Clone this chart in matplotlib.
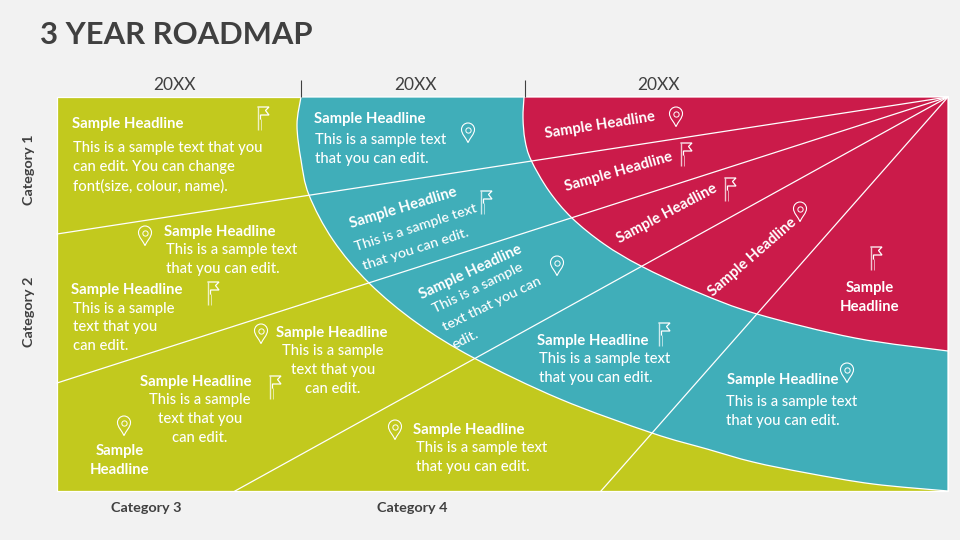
#!/usr/bin/env python3
import matplotlib
matplotlib.use("Agg")
import matplotlib.pyplot as plt
from matplotlib.patches import PathPatch, Rectangle
from matplotlib.path import Path

plt.rcParams["font.family"] = ["Lato", "DejaVu Sans"]

GREEN = "#C2C91E"
TEAL = "#40AEB9"
RED = "#CB1B4A"
DARK = "#404040"
BACK = "#F2F2F2"

APEX = (948, 97)
PLOT_LEFT, PLOT_RIGHT, PLOT_TOP, PLOT_BOTTOM = 57, 948, 97, 491

# curve anchors
red_curve = [
    (524, 97), (523, 118), (525, 140), (531, 160), (549, 191), (572, 218),
    (604, 244), (641, 266), (697, 292), (757, 314), (855, 338), (948, 351),
]
teal_curve = [
    (301, 97), (297, 125), (301, 160), (309, 195), (333, 240), (369, 283),
    (417, 323), (474, 358), (560, 399), (652, 433), (707, 449), (753, 462),
    (807, 473), (873, 484), (948, 491),
]

# far ends of the lines that fan out of the apex
ray_ends = [(57, 234), (57, 383), (235, 491), (601, 491)]

year_labels = ["20XX", "20XX", "20XX"]
year_x = [174, 415, 658]
year_ticks = [301, 525]

flags = [(258, 107), (681, 143), (725, 178), (871, 247), (659, 323), (481, 191), (208, 282), (270, 376)]
pins = [(676, 107), (468, 123), (800, 202), (557, 256), (145, 226), (261, 324), (124, 416), (395, 420), (847, 363)]

HEAD = "Sample Headline"
# x, y, text, horizontal alignment, bold, rotation
text_items = [
    (72, 124, HEAD, "left", True, 0),
    (73, 148, "This is a sample text that you", "left", False, 0),
    (73, 167, "can edit. You can change", "left", False, 0),
    (73, 186, "font(size, colour, name).", "left", False, 0),
    (314, 119, HEAD, "left", True, 0),
    (315, 140, "This is a sample text", "left", False, 0),
    (315, 159, "that you can edit.", "left", False, 0),
    (164, 232, HEAD, "left", True, 0),
    (166, 250, "This is a sample text", "left", False, 0),
    (166, 269, "that you can edit.", "left", False, 0),
    (71, 290, HEAD, "left", True, 0),
    (73, 309, "This is a sample", "left", False, 0),
    (73, 327, "text that you", "left", False, 0),
    (73, 346, "can edit.", "left", False, 0),
    (332, 333, HEAD, "center", True, 0),
    (333, 351, "This is a sample", "center", False, 0),
    (333, 370, "text that you", "center", False, 0),
    (333, 389, "can edit.", "center", False, 0),
    (196, 382, HEAD, "center", True, 0),
    (200, 400, "This is a sample", "center", False, 0),
    (200, 419, "text that you", "center", False, 0),
    (200, 438, "can edit.", "center", False, 0),
    (120, 451, "Sample", "center", True, 0),
    (120, 470, "Headline", "center", True, 0),
    (413, 430, HEAD, "left", True, 0),
    (416, 448, "This is a sample text", "left", False, 0),
    (416, 467, "that you can edit.", "left", False, 0),
    (537, 341, HEAD, "left", True, 0),
    (539, 359, "This is a sample text", "left", False, 0),
    (539, 378, "that you can edit.", "left", False, 0),
    (727, 380, HEAD, "left", True, 0),
    (726, 402, "This is a sample text", "left", False, 0),
    (726, 421, "that you can edit.", "left", False, 0),
    (870, 288, "Sample", "center", True, 0),
    (870, 307, "Headline", "center", True, 0),
    (600, 125, HEAD, "center", True, 9),
    (619, 172, HEAD, "center", True, 16),
    (667, 214, HEAD, "center", True, 28),
    (752, 257, HEAD, "center", True, 41),
    (350, 224, HEAD, "left", True, 17),
    (355, 247, "This is a sample text", "left", False, 18),
    (363, 266, "that you can edit.", "left", False, 18),
    (420, 296, HEAD, "left", True, 25),
    (433, 310, "This is a sample", "left", False, 26),
    (443, 328, "text that you can", "left", False, 26),
    (453, 345, "edit.", "left", False, 26),
]

category_labels = ["Category 1", "Category 2", "Category 3", "Category 4"]
category_pos = [(29, 170, 90), (29, 312, 90), (146, 508, 0), (412, 508, 0)]


def smooth_path(points):
    # catmull-rom through the anchors, written as cubic segments
    verts = [points[0]]
    codes = [Path.MOVETO]
    for i in range(len(points) - 1):
        p0 = points[max(i - 1, 0)]
        p1 = points[i]
        p2 = points[i + 1]
        p3 = points[min(i + 2, len(points) - 1)]
        c1 = (p1[0] + (p2[0] - p0[0]) / 6, p1[1] + (p2[1] - p0[1]) / 6)
        c2 = (p2[0] - (p3[0] - p1[0]) / 6, p2[1] - (p3[1] - p1[1]) / 6)
        verts += [c1, c2, p2]
        codes += [Path.CURVE4] * 3
    return verts, codes


def draw_region(axis, points, color):
    verts, codes = smooth_path(points)
    verts = verts + [APEX, points[0]]
    codes = codes + [Path.LINETO, Path.CLOSEPOLY]
    axis.add_patch(PathPatch(Path(verts, codes), facecolor=color, edgecolor="white", linewidth=0.9, zorder=2))


def draw_flag(axis, x, y):
    axis.plot([x, x], [y, y + 23], color="white", lw=1.0, alpha=0.75, zorder=4, solid_capstyle="butt")
    axis.plot([x + 2.5, x + 2.5], [y + 12, y + 23], color="white", lw=0.7, alpha=0.6, zorder=4, solid_capstyle="butt")
    axis.plot(
        [x, x + 11, x + 7.5, x + 11, x + 2.5, x + 2.5],
        [y, y, y + 3.5, y + 8, y + 8, y + 12],
        color="white", lw=0.9, zorder=4, solid_joinstyle="miter",
    )


def draw_pin(axis, x, top):
    w = 6.5
    k = 3.6
    cy = top + 6.5
    verts = [
        (x, top + 19.5),
        (x - 2, top + 15), (x - w, top + 11), (x - w, cy),
        (x - w, cy - k), (x - k, top), (x, top),
        (x + k, top), (x + w, cy - k), (x + w, cy),
        (x + w, top + 11), (x + 2, top + 15), (x, top + 19.5),
    ]
    codes = [Path.MOVETO] + [Path.CURVE4] * 12
    axis.add_patch(PathPatch(Path(verts, codes), fill=False, edgecolor="white", lw=0.8, zorder=4))
    axis.plot([x], [cy], marker="o", ms=3.8, mfc="none", mec="white", mew=0.7, zorder=4)


def main():
    figure = plt.figure(figsize=(9.6, 5.4), dpi=100, facecolor=BACK)
    axis = figure.add_axes([0, 0, 1, 1])
    axis.set_xlim(0, 960)
    axis.set_ylim(540, 0)
    axis.axis("off")

    axis.text(40, 35.5, "3 YEAR ROADMAP", fontsize=22.3, fontweight="bold", color=DARK, va="center", ha="left")

    axis.add_patch(Rectangle(
        (PLOT_LEFT, PLOT_TOP), PLOT_RIGHT - PLOT_LEFT, PLOT_BOTTOM - PLOT_TOP,
        facecolor=GREEN, edgecolor="white", linewidth=0.9, zorder=1,
    ))
    draw_region(axis, teal_curve, TEAL)
    draw_region(axis, red_curve, RED)

    for end in ray_ends:
        axis.plot([end[0], APEX[0]], [end[1], APEX[1]], color="white", lw=0.9, zorder=3)

    for label, x in zip(year_labels, year_x):
        axis.text(x, 85, label, fontsize=12.5, color=DARK, ha="center", va="center")
    for x in year_ticks:
        axis.plot([x, x], [80, 97], color=DARK, lw=0.8, zorder=3, solid_capstyle="butt")

    for x, y in flags:
        draw_flag(axis, x, y)
    for x, top in pins:
        draw_pin(axis, x, top)

    for x, y, text, ha, bold, rotation in text_items:
        size = 10.75 if bold else 10.65
        if rotation and not bold:
            size = 10.4
        axis.text(
            x, y, text, color="white", ha=ha, va="center",
            fontsize=size,
            fontweight="bold" if bold else "medium",
            rotation=rotation, rotation_mode="anchor", zorder=5,
        )

    for label, (x, y, rotation) in zip(category_labels, category_pos):
        axis.text(x, y, label, color=DARK, fontsize=10.4, fontweight="bold", ha="center", va="center", rotation=rotation)

    figure.savefig("out.png", dpi=100, facecolor=BACK)


if __name__ == "__main__":
    main()
